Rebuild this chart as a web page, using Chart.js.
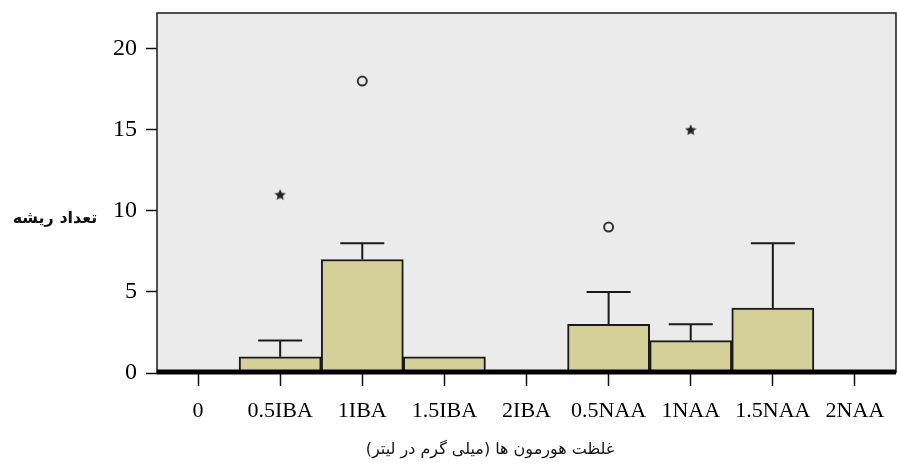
<!DOCTYPE html>
<html>
<head>
<meta charset="utf-8">
<script src="https://cdn.jsdelivr.net/npm/chart.js@4.4.0/dist/chart.umd.min.js"></script>
<style>
  html, body { margin: 0; padding: 0; background: #fff; overflow: hidden; }
  canvas { display: block; }
</style>
</head>
<body>
<canvas id="boxChart" width="897" height="466"></canvas>
<script>
// categories and values
var labels = ["0", "0.5IBA", "1IBA", "1.5IBA", "2IBA", "0.5NAA", "1NAA", "1.5NAA", "2NAA"];
var boxTop = [null, 1, 7, 1, null, 3, 2, 4, null]; // box runs from 0 (median/Q1 at 0)
var whiskerTop = [null, 2, 8, null, null, 5, 3, 8, null];
var outlierCircle = [{ x: "1IBA", y: 18 }, { x: "0.5NAA", y: 9 }];
var outlierStar = [{ x: "0.5IBA", y: 11 }, { x: "1NAA", y: 15 }];
var yTicks = [0, 5, 10, 15, 20];

var yTitle = "تعداد ریشه";
var xTitle = "غلظت هورمون ها (میلی گرم در لیتر)";

// small filled star used as point style for extreme values
function makeStar(size, color) {
  var c = document.createElement("canvas");
  c.width = size;
  c.height = size;
  var g = c.getContext("2d");
  var cx = size / 2, cy = size / 2 + 0.5, R = size / 2, r = R * 0.45;
  g.beginPath();
  for (var i = 0; i < 10; i++) {
    var rad = i % 2 === 0 ? R : r;
    var a = -Math.PI / 2 + (i * Math.PI) / 5;
    g.lineTo(cx + rad * Math.cos(a), cy + rad * Math.sin(a));
  }
  g.closePath();
  g.fillStyle = color;
  g.fill();
  return c;
}

// grey plot background
var plotBg = {
  id: "plotBg",
  beforeDraw(chart) {
    var ca = chart.chartArea, ctx = chart.ctx;
    ctx.save();
    ctx.fillStyle = "#ebebeb";
    ctx.fillRect(ca.left, ca.top, ca.right - ca.left, ca.bottom - ca.top);
    ctx.restore();
  },
};

// whiskers, frame and the two titles
var extras = {
  id: "extras",
  afterDatasetsDraw(chart) {
    var ctx = chart.ctx, ca = chart.chartArea;
    var xs = chart.scales.x, ys = chart.scales.y;
    ctx.save();
    ctx.strokeStyle = "#1a1a1a";
    ctx.lineWidth = 2;
    for (var i = 0; i < labels.length; i++) {
      if (whiskerTop[i] == null) continue;
      var x = xs.getPixelForValue(i);
      var y1 = ys.getPixelForValue(boxTop[i]);
      var y2 = ys.getPixelForValue(whiskerTop[i]);
      ctx.beginPath();
      ctx.moveTo(x, y1);
      ctx.lineTo(x, y2);
      ctx.moveTo(x - 22, y2);
      ctx.lineTo(x + 22, y2);
      ctx.stroke();
    }
    // frame
    ctx.lineWidth = 1.5;
    ctx.beginPath();
    ctx.moveTo(ca.left, ca.bottom);
    ctx.lineTo(ca.left, ca.top);
    ctx.lineTo(ca.right, ca.top);
    ctx.lineTo(ca.right, ca.bottom);
    ctx.stroke();
    ctx.lineWidth = 5;
    ctx.strokeStyle = "#000";
    ctx.beginPath();
    ctx.moveTo(ca.left, ca.bottom - 1);
    ctx.lineTo(ca.right, ca.bottom - 1);
    ctx.stroke();
    ctx.restore();
  },
  afterDraw(chart) {
    var ctx = chart.ctx;
    ctx.save();
    ctx.fillStyle = "#111";
    ctx.direction = "rtl";
    ctx.textAlign = "center";
    ctx.textBaseline = "middle";
    ctx.font = "bold 16px 'DejaVu Sans'";
    ctx.fillText(yTitle, 55, 219);
    ctx.font = "16px 'DejaVu Sans'";
    ctx.fillText(xTitle, 490, 450);
    ctx.restore();
  },
};

new Chart(document.getElementById("boxChart").getContext("2d"), {
  type: "bar",
  data: {
    labels: labels,
    datasets: [
      {
        data: boxTop,
        backgroundColor: "#d5cf9a",
        borderColor: "#1a1a1a",
        borderWidth: 2,
        borderSkipped: false,
        barPercentage: 1,
        categoryPercentage: 1,
      },
      {
        type: "line",
        data: outlierCircle,
        showLine: false,
        pointStyle: "circle",
        pointRadius: 4.5,
        pointBorderWidth: 2,
        pointBorderColor: "#333",
        pointBackgroundColor: "rgba(0,0,0,0)",
      },
      {
        type: "line",
        data: outlierStar,
        showLine: false,
        pointStyle: makeStar(12, "#222"),
      },
    ],
  },
  options: {
    responsive: false,
    animation: false,
    layout: { autoPadding: false, padding: { left: 0, top: 13, right: 1, bottom: 0 } },
    plugins: {
      legend: { display: false },
      tooltip: { enabled: false },
    },
    scales: {
      x: {
        grid: {
          display: true,
          drawOnChartArea: false,
          drawTicks: true,
          tickLength: 13,
          tickWidth: 1.5,
          tickColor: "#111",
          offset: false,
        },
        border: { display: false },
        ticks: {
          autoSkip: false,
          maxRotation: 0,
          minRotation: 0,
          padding: 12,
          color: "#000",
          font: { family: "'Liberation Serif'", size: 22 },
        },
        afterFit(scale) {
          scale.height = 93;
          scale.paddingLeft = 0;
          scale.paddingRight = 0;
        },
      },
      y: {
        min: 0,
        max: 22.2,
        grid: {
          drawOnChartArea: false,
          drawTicks: true,
          tickLength: 11,
          tickWidth: 1.5,
          tickColor: "#111",
        },
        border: { display: false },
        ticks: {
          padding: 9,
          color: "#000",
          font: { family: "'Liberation Serif'", size: 24 },
        },
        afterBuildTicks(scale) {
          scale.ticks = yTicks.map(function (v) { return { value: v }; });
        },
        afterFit(scale) {
          scale.width = 157;
          scale.paddingTop = 0;
          scale.paddingBottom = 0;
        },
      },
    },
  },
  plugins: [plotBg, extras],
});
</script>
</body>
</html>
